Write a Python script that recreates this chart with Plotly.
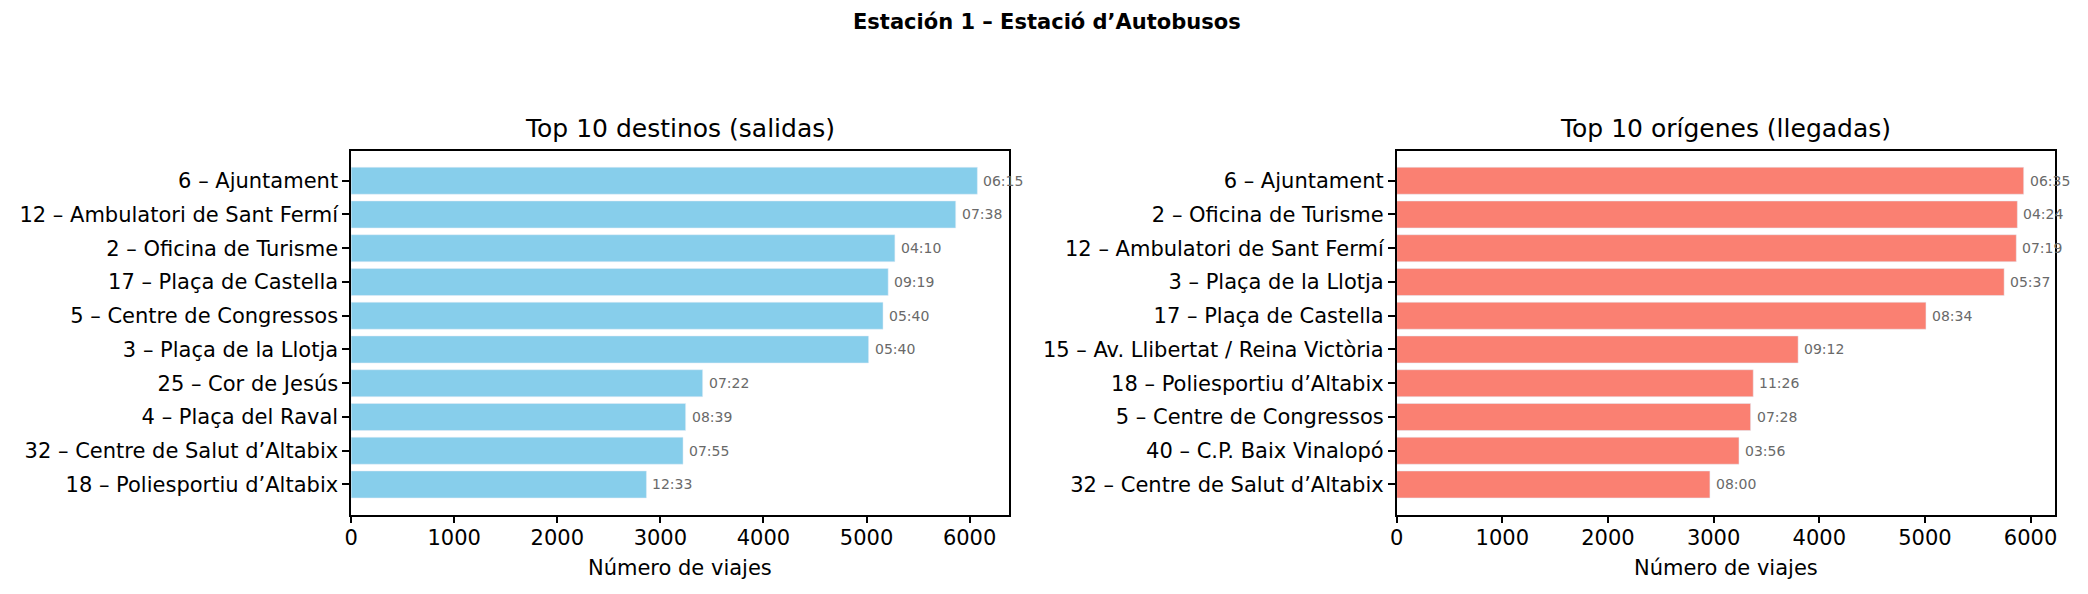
import plotly.graph_objects as go

# ---- data ----
left_labels = ["6 – Ajuntament", "12 – Ambulatori de Sant Fermí", "2 – Oficina de Turisme",
               "17 – Plaça de Castella", "5 – Centre de Congressos", "3 – Plaça de la Llotja",
               "25 – Cor de Jesús", "4 – Plaça del Raval", "32 – Centre de Salut d’Altabix",
               "18 – Poliesportiu d’Altabix"]
left_values = [6075, 5865, 5275, 5210, 5160, 5020, 3410, 3245, 3220, 2865]
left_times = ["06:15", "07:38", "04:10", "09:19", "05:40", "05:40", "07:22", "08:39", "07:55", "12:33"]

right_labels = ["6 – Ajuntament", "2 – Oficina de Turisme", "12 – Ambulatori de Sant Fermí",
                "3 – Plaça de la Llotja", "17 – Plaça de Castella",
                "15 – Av. Llibertat / Reina Victòria", "18 – Poliesportiu d’Altabix",
                "5 – Centre de Congressos", "40 – C.P. Baix Vinalopó",
                "32 – Centre de Salut d’Altabix"]
right_values = [5935, 5875, 5865, 5750, 5010, 3800, 3375, 3350, 3240, 2965]
right_times = ["06:35", "04:24", "07:19", "05:37", "08:34", "09:12", "11:26", "07:28", "03:56", "08:00"]

x_ticks = [0, 1000, 2000, 3000, 4000, 5000, 6000]

suptitle = "Estación 1 – Estació d’Autobusos"
left_title = "Top 10 destinos (salidas)"
right_title = "Top 10 orígenes (llegadas)"
x_title = "Número de viajes"

FONT = "DejaVu Sans"
W, H = 2088, 594

fig = go.Figure()
fig.add_trace(go.Bar(x=left_values, y=left_labels, orientation="h", marker_color="#87CEEB",
                     width=0.8, xaxis="x", yaxis="y", showlegend=False, hoverinfo="x+y"))
fig.add_trace(go.Bar(x=right_values, y=right_labels, orientation="h", marker_color="#FA8072",
                     width=0.8, xaxis="x2", yaxis="y2", showlegend=False, hoverinfo="x+y"))

ytop = 1 - 150.7 / H
ybot = 1 - 514.5 / H
dom_l = [345.6 / W, 1006 / W]
dom_r = [1395.7 / W, 2056.9 / W]

def xaxis(domain, anchor, vmax):
    return dict(domain=domain, anchor=anchor, range=[0, vmax * 1.05],
                tickvals=x_ticks, ticktext=[str(v) for v in x_ticks],
                showgrid=False, zeroline=False, showline=True, mirror=True,
                linecolor="black", linewidth=1.5, ticks="outside", ticklen=7,
                tickwidth=1.5, tickcolor="black", ticklabelstandoff=-3,
                tickfont=dict(family=FONT, size=21, color="black"),
                title=dict(text=x_title, font=dict(family=FONT, size=21, color="black"), standoff=11))

def yaxis(domain, anchor, labels):
    n = len(labels)
    return dict(domain=domain, anchor=anchor, type="category",
                categoryorder="array", categoryarray=labels,
                range=[n - 1 + 0.89, -0.89],
                showgrid=False, zeroline=False, showline=True, mirror=True,
                linecolor="black", linewidth=1.5, ticks="outside", ticklen=7,
                tickwidth=1.5, tickcolor="black",
                tickfont=dict(family=FONT, size=21, color="black"))

fig.update_layout(
    width=W, height=H, margin=dict(l=0, r=0, t=0, b=0),
    paper_bgcolor="white", plot_bgcolor="white",
    font=dict(family=FONT, color="black"),
    bargap=0.2,
    xaxis=xaxis(dom_l, "y", max(left_values)),
    yaxis=yaxis([ybot, ytop], "x", left_labels),
    xaxis2=xaxis(dom_r, "y2", max(right_values)),
    yaxis2=yaxis([ybot, ytop], "x2", right_labels),
)

ann = []
for v, lab, t in zip(left_values, left_labels, left_times):
    ann.append(dict(x=v, y=lab, xref="x", yref="y", text=t, showarrow=False,
                    xanchor="left", yanchor="middle", xshift=4,
                    font=dict(family=FONT, size=14, color="#696969")))
for v, lab, t in zip(right_values, right_labels, right_times):
    ann.append(dict(x=v, y=lab, xref="x2", yref="y2", text=t, showarrow=False,
                    xanchor="left", yanchor="middle", xshift=4,
                    font=dict(family=FONT, size=14, color="#696969")))

ann.append(dict(x=(dom_l[0] + dom_l[1]) / 2, y=ytop, xref="paper", yref="paper",
                text=left_title, showarrow=False, xanchor="center", yanchor="bottom", yshift=6,
                font=dict(family=FONT, size=25, color="black")))
ann.append(dict(x=(dom_r[0] + dom_r[1]) / 2, y=ytop, xref="paper", yref="paper",
                text=right_title, showarrow=False, xanchor="center", yanchor="bottom", yshift=6,
                font=dict(family=FONT, size=25, color="black")))
ann.append(dict(x=0.5, y=1 - 8 / H, xref="paper", yref="paper",
                text="<b>" + suptitle + "</b>", showarrow=False, xanchor="center", yanchor="top",
                font=dict(family=FONT, size=21, color="black")))
fig.update_layout(annotations=ann)

fig.write_html("out.html")
